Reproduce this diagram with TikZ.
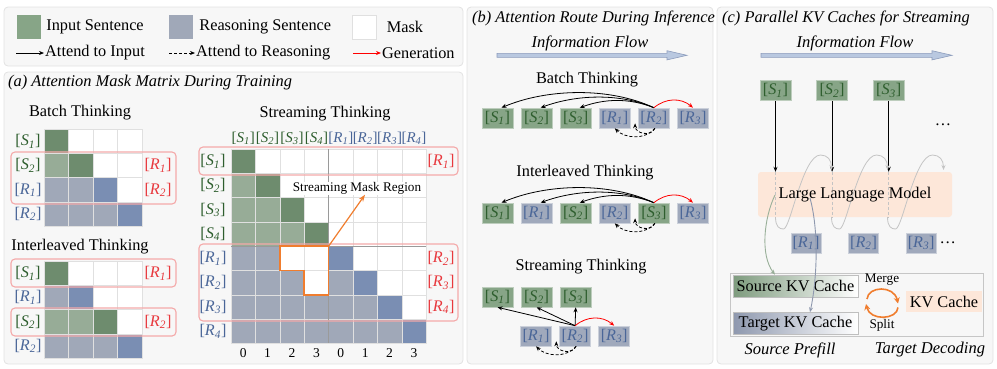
\documentclass[tikz,border=0pt]{standalone}
\usepackage{fontspec}
\setmainfont{Liberation Serif}
\usepackage{tikz}
\usetikzlibrary{positioning,arrows.meta}
\definecolor{panelbg}{HTML}{F7F7F7}
\definecolor{panelline}{HTML}{E2E2E2}
\definecolor{gridline}{HTML}{E0E0E0}
\definecolor{cG}{HTML}{6E8C6E}
\definecolor{cL}{HTML}{97AC97}
\definecolor{cY}{HTML}{A0A8B8}
\definecolor{cB}{HTML}{7A8EB3}
\definecolor{cW}{HTML}{FFFFFF}
\definecolor{tokG}{HTML}{87A587}
\definecolor{tokB}{HTML}{A0A9BC}
\definecolor{txG}{HTML}{2E5E2E}
\definecolor{txB}{HTML}{4A6698}
\definecolor{txR}{HTML}{E8383D}
\definecolor{pinkline}{HTML}{F4A9A9}
\definecolor{orng}{HTML}{F07D2E}
\definecolor{flowfill}{HTML}{B9C8E0}
\definecolor{flowline}{HTML}{8C9CBC}
\definecolor{peach}{HTML}{FDE7D9}
\definecolor{cacheG}{HTML}{7E9B7E}
\definecolor{cacheB}{HTML}{8E98AE}
\definecolor{loopgrey}{HTML}{C4C4C4}
\definecolor{divgrey}{HTML}{9A9A9A}
\newcommand{\tkn}[2]{[\textit{#1}\textsubscript{\textit{#2}}]}
\newcommand{\flowarrow}[3]{\draw[flowarr] (#1,{#3-2}) -- ({#2-20},{#3-2}) -- ({#2-20},{#3-4.6}) -- (#2,#3) -- ({#2-20},{#3+4.6}) -- ({#2-20},{#3+2}) -- (#1,{#3+2}) -- cycle;}

\begin{document}
\begin{tikzpicture}[x=1pt, y=-1pt,
    every node/.style={font=\fontsize{16.3}{18}\selectfont, inner sep=1pt},
    panel/.style={draw=panelline, fill=panelbg, rounded corners=4pt, line width=0.8pt},
    cell/.style={draw=gridline, line width=0.6pt},
    pinkbox/.style={draw=pinkline, line width=1.1pt, rounded corners=4pt},
    lbl/.style={font=\fontsize{16.2}{18}\selectfont},
    collbl/.style={font=\fontsize{15}{17}\selectfont, inner sep=0pt},
    tokg/.style={lbl, fill=tokG, draw=tokG!55!white, line width=0.6pt, minimum width=31pt, minimum height=20pt, inner sep=0pt, text=txG},
    tokb/.style={lbl, fill=tokB, draw=tokB!55!white, line width=0.6pt, minimum width=31pt, minimum height=20pt, inner sep=0pt, text=txB},
    title/.style={font=\fontsize{16.4}{18}\selectfont\itshape, anchor=west},
    flowtxt/.style={font=\fontsize{16.5}{18}\selectfont\itshape},
    small/.style={font=\fontsize{13.2}{15}\selectfont},
    att/.style={-{Stealth[length=5pt,width=4pt]}, line width=0.8pt},
    attdash/.style={att, dash pattern=on 3pt off 2pt},
    gen/.style={att, draw=red},
    flowarr/.style={draw=flowline, fill=flowfill, line width=0.6pt},
    divline/.style={draw=divgrey, line width=0.9pt},
    llmbox/.style={fill=peach, rounded corners=3pt, minimum width=194pt, minimum height=45pt},
    loopc/.style={draw=loopgrey, line width=0.8pt, -{Stealth[length=5pt,width=4pt]}},
    cachebox/.style={draw=gray!50, line width=0.6pt, minimum width=125pt, minimum height=22pt, inner sep=0pt}
  ]
  \useasboundingbox (0,0) rectangle (997,368);

  % panels
  \draw[panel] (4,7) rectangle (463,66);
  \draw[panel] (4,72) rectangle (463,364);
  \draw[panel] (467,7) rectangle (713,364);
  \draw[panel] (717,7) rectangle (993,364);

  % legend
  \node[fill=tokG, minimum size=24pt, inner sep=0pt] (lgin) at (29,27) {};
  \node[right=4pt of lgin] (lgint) {Input Sentence};
  \node[fill=cY, minimum size=24pt, inner sep=0pt] (lgrs) at (181,27) {};
  \node[right=5pt of lgrs] (lgrst) {Reasoning Sentence};
  \node[draw=gridline, fill=white, minimum size=24pt, inner sep=0pt] (lgmk) at (364.5,27) {};
  \node[right=9pt of lgmk] (lgmkt) {Mask};
  \coordinate (la1) at (16,53);
  \node[anchor=west] (lat1) at (44,53) {Attend to Input};
  \draw[att] (la1) -- (lat1.west);
  \coordinate (la2) at (169,53);
  \node[anchor=west] (lat2) at (195,53) {Attend to Reasoning};
  \draw[attdash] (la2) -- (lat2.west);
  \coordinate (la3) at (353,53);
  \node[anchor=west] (lat3) at (381,53) {Generation};
  \draw[gen] (la3) -- (lat3.west);

  % (a) attention mask matrix
  \node[title] (ta) at (7,83) {(a) Attention Mask Matrix During Training};

  % batch thinking
  \node (hbatch) at (80,113) {Batch Thinking};
  \foreach \row [count=\r] in {{G,W,W,W},{L,G,W,W},{Y,Y,B,W},{Y,Y,Y,B}}
    \foreach \k [count=\c] in \row
      \filldraw[cell, fill=c\k] ({44+(\c-1)*24.5},{129+(\r-1)*24.3}) rectangle ++(24.5,24.3);
  \foreach \nm/\ix/\clr [count=\r] in {S/1/txG,S/2/txG,R/1/txB,R/2/txB}
    \node[lbl, text=\clr] (bl\r) at (28,{129+(\r-0.5)*24.3}) {\tkn{\nm}{\ix}};
  \node[lbl, text=txR] (br1) at (158,{129+1.5*24.3}) {\tkn{R}{1}};
  \node[lbl, text=txR] (br2) at (158,{129+2.5*24.3}) {\tkn{R}{2}};
  \draw[pinkbox] (11,152) rectangle (176,204);

  % interleaved thinking
  \node (hinter) at (80,247) {Interleaved Thinking};
  \foreach \row [count=\r] in {{G,W,W,W},{Y,B,W,W},{L,L,G,W},{Y,Y,Y,B}}
    \foreach \k [count=\c] in \row
      \filldraw[cell, fill=c\k] ({44+(\c-1)*24.5},{261+(\r-1)*24.3}) rectangle ++(24.5,24.3);
  \foreach \nm/\ix/\clr [count=\r] in {S/1/txG,R/1/txB,S/2/txG,R/2/txB}
    \node[lbl, text=\clr] (il\r) at (28,{261+(\r-0.5)*24.3}) {\tkn{\nm}{\ix}};
  \node[lbl, text=txR] (ir1) at (158,{261+0.5*24.3}) {\tkn{R}{1}};
  \node[lbl, text=txR] (ir2) at (158,{261+2.5*24.3}) {\tkn{R}{2}};
  \draw[pinkbox] (11,259) rectangle (176,287);
  \draw[pinkbox] (11,308) rectangle (176,336);

  % streaming thinking
  \node (hstream) at (325,114) {Streaming Thinking};
  \foreach \row [count=\r] in {{G,W,W,W,W,W,W,W},{L,G,W,W,W,W,W,W},{L,L,G,W,W,W,W,W},{L,L,L,G,W,W,W,W},
                               {Y,Y,W,W,B,W,W,W},{Y,Y,Y,W,Y,B,W,W},{Y,Y,Y,Y,Y,Y,B,W},{Y,Y,Y,Y,Y,Y,Y,B}}
    \foreach \k [count=\c] in \row
      \filldraw[cell, fill=c\k] ({231+(\c-1)*24.4},{149+(\r-1)*24.3}) rectangle ++(24.4,24.3);
  \foreach \nm/\ix/\clr [count=\r] in {S/1/txG,S/2/txG,S/3/txG,S/4/txG,R/1/txB,R/2/txB,R/3/txB,R/4/txB} {
    \node[lbl, text=\clr] (sl\r) at (213,{149+(\r-0.5)*24.3}) {\tkn{\nm}{\ix}};
    \node[collbl, text=\clr] (sc\r) at ({231+(\r-0.5)*24.4},138) {\tkn{\nm}{\ix}};
  }
  \foreach \ix/\r in {1/1,2/5,3/6,4/7}
    \node[lbl, text=txR] (sr\ix) at (441,{149+(\r-0.5)*24.3}) {\tkn{R}{\ix}};
  \foreach \v [count=\c] in {0,1,2,3,0,1,2,3}
    \node[font=\fontsize{13.5}{15}\selectfont] (sn\c) at ({231+(\c-0.5)*24.4},353) {\v};
  \draw[divline] (328.6,149) -- (328.6,343.4);
  \draw[divline] (231,246.2) -- (426.2,246.2);
  \draw[pinkbox] (199,147) rectangle (458,175);
  \draw[pinkbox] (199,244) rectangle (458,321);
  % streaming mask region
  \draw[draw=orng, line width=1.5pt] (279.8,246.2) -- (328.6,246.2) -- (328.6,294.8) -- (304.2,294.8)
    -- (304.2,270.5) -- (279.8,270.5) -- cycle;
  \coordinate (mcorner) at (328.6,246.2);
  \node[small, fill=white, inner sep=0.5pt] (mlbl) at (357,188) {Streaming Mask Region};
  \draw[draw=orng, line width=1.2pt, -{Stealth[length=7pt,width=5pt]}] (mcorner) -- ([xshift=8pt]mlbl.south);

  % (b) attention route
  \node[title] (tb) at (471,18) {(b) Attention Route During Inference};
  \node[flowtxt] (fb) at (590,43) {Information Flow};
  \flowarrow{497}{687}{55.3}

  % batch route
  \node (rbatch) at (587,80) {Batch Thinking};
  \node[tokg] (b1) at (497.5,118) {\tkn{S}{1}};
  \node[tokg, right=7.5pt of b1] (b2) {\tkn{S}{2}};
  \node[tokg, right=7.5pt of b2] (b3) {\tkn{S}{3}};
  \node[tokb, right=7.5pt of b3] (b4) {\tkn{R}{1}};
  \node[tokb, right=7.5pt of b4] (b5) {\tkn{R}{2}};
  \node[tokb, right=7.5pt of b5] (b6) {\tkn{R}{3}};
  \draw[att] (b5.north) .. controls +(-45,-21) and +(45,-19) .. ([xshift=4pt]b1.north);
  \draw[att] (b5.north) .. controls +(-35,-15) and +(35,-13) .. ([xshift=4pt]b2.north);
  \draw[att] (b5.north) .. controls +(-25,-10) and +(25,-9) .. ([xshift=4pt]b3.north);
  \draw[gen] (b5.north) .. controls +(12,-10) and +(-12,-10) .. (b6.north);
  \draw[attdash] ([xshift=1pt]b5.south) .. controls +(-10,12) and +(10,10) .. (b4.south);
  \draw[attdash] ([xshift=1pt]b5.south) .. controls +(-4,9) and +(0,10) .. ([shift={(-3,-5)}]b5.south west);

  % interleaved route
  \node (rinter) at (585,173) {Interleaved Thinking};
  \node[tokg] (i1) at (497.5,213) {\tkn{S}{1}};
  \node[tokb, right=7.5pt of i1] (i2) {\tkn{R}{1}};
  \node[tokg, right=7.5pt of i2] (i3) {\tkn{S}{2}};
  \node[tokb, right=7.5pt of i3] (i4) {\tkn{R}{2}};
  \node[tokg, right=7.5pt of i4] (i5) {\tkn{S}{3}};
  \node[tokb, right=7.5pt of i5] (i6) {\tkn{R}{3}};
  \draw[att] (i5.north) .. controls +(-45,-21) and +(45,-19) .. ([xshift=4pt]i1.north);
  \draw[att] (i5.north) .. controls +(-35,-15) and +(35,-13) .. ([xshift=4pt]i2.north);
  \draw[att] (i5.north) .. controls +(-25,-10) and +(25,-9) .. ([xshift=4pt]i3.north);
  \draw[gen] (i5.north) .. controls +(12,-10) and +(-12,-10) .. (i6.north);
  \draw[attdash] ([xshift=1pt]i5.south) .. controls +(-10,12) and +(10,10) .. (i4.south);
  \draw[attdash] ([xshift=1pt]i5.south) .. controls +(-4,9) and +(0,10) .. ([shift={(-3,-5)}]i5.south west);

  % streaming route
  \node (rstream) at (581,267) {Streaming Thinking};
  \node[tokg] (s1) at (497.5,297) {\tkn{S}{1}};
  \node[tokg, right=7.5pt of s1] (s2) {\tkn{S}{2}};
  \node[tokg, right=7.5pt of s2] (s3) {\tkn{S}{3}};
  \node[tokb] (r1) at (536,336) {\tkn{R}{1}};
  \node[tokb, right=7.5pt of r1] (r2) {\tkn{R}{2}};
  \node[tokb, right=7.5pt of r2] (r3) {\tkn{R}{3}};
  \draw[att] (r2.north) -- (s1.south);
  \draw[att] (r2.north) -- (s2.south);
  \draw[att] (r2.north) -- (s3.south);
  \draw[gen] (r2.north) .. controls +(12,-10) and +(-12,-10) .. (r3.north);
  \draw[attdash] ([xshift=1pt]r2.south) .. controls +(-10,12) and +(10,10) .. (r1.south);
  \draw[attdash] ([xshift=1pt]r2.south) .. controls +(-4,9) and +(0,10) .. ([shift={(-3,-5)}]r2.south west);

  % (c) parallel kv caches
  \node[title] (tc) at (721,18) {(c) Parallel KV Caches for Streaming};
  \node[flowtxt] (fc) at (855,43) {Information Flow};
  \flowarrow{761}{952}{55.3}

  \node[tokg] (cS1) at (775.5,90.5) {\tkn{S}{1}};
  \node[tokg, right=25pt of cS1] (cS2) {\tkn{S}{2}};
  \node[tokg, right=25pt of cS2] (cS3) {\tkn{S}{3}};
  \node (cdots1) at (943,125) {\ldots};
  \node[llmbox] (llm) at (855,194.5) {};
  \foreach \n in {cS1,cS2,cS3} {
    \draw[att] (\n) -- (\n |- llm.north);
    \draw[draw=loopgrey, line width=0.8pt, dash pattern=on 3pt off 2pt] (\n |- llm.north) -- (\n |- llm.south);
  }
  \foreach \xx in {775.5,831.5,887.5}
    \draw[loopc] (\xx,217) .. controls ({\xx},227) and ({\xx+4},229) .. ({\xx+8},229)
      .. controls ({\xx+15},229) and ({\xx+27},155) .. ({\xx+45},155)
      .. controls ({\xx+52},155) and ({\xx+56},160) .. ({\xx+56},170);
  \node (llmtext) at (llm.center) {Large Language Model};

  \node[tokb, minimum width=30pt] (cR1) at (806,243) {\tkn{R}{1}};
  \node[tokb, minimum width=30pt, right=27pt of cR1] (cR2) {\tkn{R}{2}};
  \node[tokb, minimum width=30pt, right=27pt of cR2] (cR3) {\tkn{R}{3}};
  \node[right=2pt of cR3] (cdots2) {\ldots};

  % kv caches
  \draw[draw=gray!45, fill=white!97!black, line width=0.6pt] (730,273) rectangle (983,336);
  \node[cachebox, left color=cacheG, right color=white] (src) at (795.5,286) {Source KV Cache};
  \node[cachebox, left color=cacheB, right color=white] (tgt) at (795.5,323.5) {Target KV Cache};
  \node[fill=peach, minimum width=76pt, minimum height=21pt, inner sep=0pt] (kv) at (944,301.5) {KV Cache};
  \node[small] (merge) at (882,280) {Merge};
  \node[small] (split) at (882,325) {Split};
  \coordinate (mg1) at (867,299);
  \coordinate (mg2) at (898,303.5);
  \coordinate (sp1) at (898,307.5);
  \coordinate (sp2) at (866,304);
  \draw[draw=orng, line width=1.6pt, -{Stealth[length=6pt,width=6pt]}] (mg1) .. controls (868,286) and (894,285) .. (mg2);
  \draw[draw=orng, line width=1.6pt, -{Stealth[length=6pt,width=6pt]}] (sp1) .. controls (897,320) and (870,321) .. (sp2);
  \node[flowtxt] (pre) at (790,350) {Source Prefill};
  \node[flowtxt] (dec) at (930,350) {Target Decoding};
  \coordinate (gstart) at (775,195);
  \coordinate (bstart) at (810,198);
  \draw[draw=cacheG!80!white, line width=0.9pt, -{Stealth[length=5pt,width=4pt]}] (gstart) .. controls (764,218) and (760,255) .. ([xshift=-20.5pt]src.north);
  \draw[draw=cacheB, line width=0.9pt, -{Stealth[length=5pt,width=4pt]}] (bstart) .. controls (820,235) and (816,285) .. ([xshift=14.5pt]tgt.north);
\end{tikzpicture}
\end{document}
